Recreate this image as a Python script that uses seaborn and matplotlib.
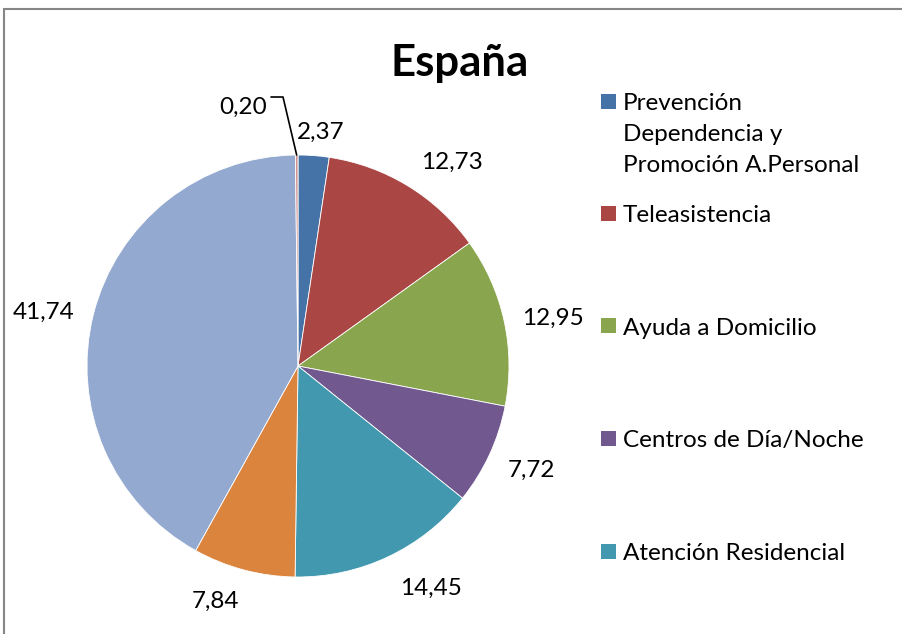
import numpy as np
import matplotlib
matplotlib.use("Agg")
import matplotlib.pyplot as plt
from matplotlib.patches import Rectangle
import seaborn as sns

# ---- data ----
categories = [
    "Prevención\nDependencia y\nPromoción A.Personal",
    "Teleasistencia",
    "Ayuda a Domicilio",
    "Centros de Día/Noche",
    "Atención Residencial",
    "Prestación económica vinculada al servicio",
    "Prestación económica cuidados familiares",
    "Prestación económica asistencia personal",
]
values = [2.37, 12.73, 12.95, 7.72, 14.45, 7.84, 41.74, 0.20]
legend_count = 5
title = "España"

colors = ["#4572A7", "#AA4643", "#89A54E", "#71588F", "#4198AF",
          "#DB843D", "#93A9CF", "#D19392"]
# label placement (style): radial distance and angular nudge (deg)
label_dist = [1.124, 1.219, 1.232, 1.205, 1.218, 1.172, 1.233]
label_dang = [-1.3, -5.35, -1.2, 1.3, 6.0, -4.7, 1.7]

sns.set_style("white")
plt.rcParams["font.family"] = ["Lato", "DejaVu Sans"]
plt.rcParams["text.color"] = "black"

W, H = 902, 634
fig = plt.figure(figsize=(W / 100, H / 100), dpi=100)
cx, cy, R = 298, 366, 211
ax = fig.add_axes([(cx - R) / W, (H - cy - R) / H, 2 * R / W, 2 * R / H])
wedges, _ = ax.pie(values, colors=colors, startangle=90, counterclock=False,
                   radius=1, wedgeprops=dict(edgecolor="white", linewidth=0.6))
ax.set_xlim(-1, 1)
ax.set_ylim(-1, 1)
ax.set_aspect("auto")
ax.axis("off")

fs = 17.5
cap_half = 0.72 * fs * 100 / 72 / 2 / R  # half cap height in data units
fmt = lambda v: f"{v:.2f}".replace(".", ",")
for w, v, d, da in zip(wedges[:7], values[:7], label_dist, label_dang):
    ang = np.deg2rad((w.theta1 + w.theta2) / 2 + da)
    ax.text(d * np.cos(ang), d * np.sin(ang) - cap_half, fmt(v), ha="center",
            va="baseline", fontsize=fs, color="black", clip_on=False)

# small slice with leader line
w = wedges[7]
ang = np.deg2rad((w.theta1 + w.theta2) / 2)
px, py = np.cos(ang), np.sin(ang)
ey = (cy - 97) / R
ex = (283 - cx) / R
sx = (271 - cx) / R
ax.plot([px, ex, sx], [py, ey, ey], color="black", lw=1.2, clip_on=False)
ax.text((243 - cx) / R, (cy - 105) / R - cap_half, fmt(values[7]), ha="center",
        va="baseline", fontsize=fs, color="black", clip_on=False)

# title
fig.text(460 / W, 1 - 76 / H, title, ha="center", va="baseline",
         fontsize=31.5, fontweight="bold", color="black")

# legend (manual)
cap_px = 0.72 * fs * 100 / 72
leg_y = [101, 213, 326, 438, 551]
for i in range(legend_count):
    y = leg_y[i]
    fig.patches.append(Rectangle((601 / W, 1 - (y + 7.5) / H), 15 / W, 15 / H,
                                 transform=fig.transFigure, facecolor=colors[i],
                                 edgecolor="none"))
    for j, line in enumerate(categories[i].split("\n")):
        fig.text(623 / W, 1 - (y + 31 * j + cap_px / 2) / H, line, ha="left",
                 va="baseline", fontsize=fs, color="black")

# chart border
fig.patches.append(Rectangle((3.5 / W, -0.1), 1.2, 1 - 8.5 / H + 0.1,
                             transform=fig.transFigure, facecolor="none",
                             edgecolor="#868686", linewidth=1.5))

fig.savefig("out.png", dpi=100)
